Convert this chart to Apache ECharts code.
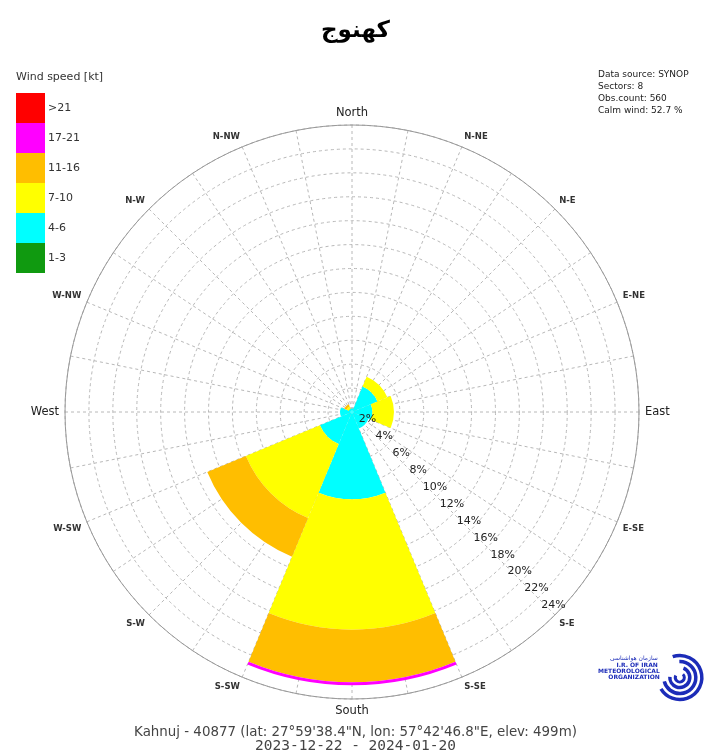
<!DOCTYPE html>
<html><head><meta charset="utf-8">
<script src="https://cdn.jsdelivr.net/npm/echarts@6/dist/echarts.min.js"></script>
<style>html,body{margin:0;padding:0;background:#fff}#c{width:711px;height:755px}</style>
</head><body><div id="c"></div><script>
// ---- data ----
const sectors = ['N', 'NE', 'E', 'SE', 'S', 'SW', 'W', 'NW'];
const speedClasses = ['1-3', '4-6', '7-10', '11-16', '17-21', '>21'];
const classColors = ['#109a10', '#00ffff', '#ffff00', '#ffbe00', '#ff00ff', '#ff0000'];
const freq_1_3   = [0, 0, 0, 0, 0, 0, 0, 0];
const freq_4_6   = [0.3, 2.3, 1.7, 1.5, 7.3, 2.9, 1.0, 0.3];
const freq_7_10  = [0, 0.9, 1.8, 0, 10.9, 6.7, 0, 0.2];
const freq_11_16 = [0, 0, 0, 0, 4.4, 3.5, 0, 0.2];
const freq_17_21 = [0, 0, 0, 0, 0.25, 0, 0, 0];
const freq_gt21  = [0, 0, 0, 0, 0, 0, 0, 0];
const directions16 = ['North', 'N-NE', 'N-E', 'E-NE', 'East', 'E-SE', 'S-E', 'S-SE',
  'South', 'S-SW', 'S-W', 'W-SW', 'West', 'W-NW', 'N-W', 'N-NW'];
const cardinals = ['North', 'East', 'South', 'West'];
const ringMax = 24, ringStep = 2;
const titleText = 'كهنوج';
const infoLines = ['Data source: SYNOP', 'Sectors: 8', 'Obs.count: 560', 'Calm wind: 52.7 %'];
const footerStation = 'Kahnuj - 40877 (lat: 27°59\'38.4"N, lon: 57°42\'46.8"E, elev: 499m)';
const footerPeriod = '2023-12-22 - 2024-01-20';

// ---- build ----
const seriesData = [freq_1_3, freq_4_6, freq_7_10, freq_11_16, freq_17_21, freq_gt21];
const C = [352, 412], R = 287;
const FF = 'DejaVu Sans';
const gridColor = '#b8b8b8';

function dirLabel(v) {
  if (v >= 360) return '';
  const k = v / 22.5;
  if (Math.abs(k - Math.round(k)) > 1e-6) return '';
  const name = directions16[Math.round(k)];
  return cardinals.includes(name) ? '{c|' + name + '}' : '{d|' + name + '}';
}

const chart = echarts.init(document.getElementById('c'));
chart.setOption({
  animation: false,
  backgroundColor: '#fff',
  title: [
    { text: titleText, left: 'center', top: 15, textStyle: { fontFamily: FF, fontSize: 23, fontWeight: 'bold', color: '#000' } },
    { text: 'Wind speed [kt]', left: 11, top: 67, textStyle: { fontFamily: FF, fontSize: 11, fontWeight: 'normal', color: '#333' } },
    { text: infoLines.join('\n'), left: 593, top: 64, textStyle: { fontFamily: FF, fontSize: 9, lineHeight: 12, fontWeight: 'normal', color: '#222' } },
    { text: footerStation, left: 'center', top: 721, textStyle: { fontFamily: FF, fontSize: 13.4, fontWeight: 'normal', color: '#444' } },
    { text: footerPeriod, left: 'center', top: 734, textStyle: { fontFamily: 'DejaVu Sans Mono', fontSize: 14.5, fontWeight: 'normal', color: '#444' } }
  ],
  legend: {
    orient: 'vertical', left: 11, top: 88,
    itemWidth: 29, itemHeight: 30, itemGap: 0, icon: 'rect',
    selectedMode: false,
    data: speedClasses.slice().reverse(),
    textStyle: { fontFamily: FF, fontSize: 11, color: '#333', padding: [0, 0, 0, -2] }
  },
  polar: [
    { center: C, radius: R },
    { center: C, radius: R },
    { center: C, radius: R }
  ],
  angleAxis: [
    {
      polarIndex: 0, type: 'value', min: 0, max: 360, interval: 11.25,
      startAngle: 90, clockwise: true,
      axisLine: { show: true, lineStyle: { color: '#999', width: 1 } },
      axisTick: { show: false },
      axisLabel: {
        margin: 6, showMaxLabel: false, hideOverlap: false,
        formatter: dirLabel,
        rich: {
          c: { fontFamily: FF, fontSize: 11.5, color: '#222' },
          d: { fontFamily: FF, fontSize: 8.5, fontWeight: 'bold', color: '#333' }
        }
      },
      splitLine: { show: true, lineStyle: { color: gridColor, type: [3, 3], width: 1 } }
    },
    {
      polarIndex: 1, type: 'category', data: sectors, boundaryGap: true,
      startAngle: 112.5, clockwise: true, show: false
    },
    {
      polarIndex: 2, type: 'value', startAngle: -45, show: false
    }
  ],
  radiusAxis: [
    {
      polarIndex: 0, type: 'value', min: 0, max: ringMax, interval: ringStep,
      axisLine: { show: false }, axisTick: { show: false }, axisLabel: { show: false },
      splitLine: { show: true, lineStyle: { color: gridColor, type: [3, 3], width: 1 } }
    },
    {
      polarIndex: 1, type: 'value', min: 0, max: ringMax, show: false
    },
    {
      polarIndex: 2, type: 'value', min: 0, max: ringMax, interval: ringStep, z: 10,
      axisLine: { show: false }, axisTick: { show: false }, splitLine: { show: false },
      axisLabel: {
        margin: 0, align: 'center', verticalAlign: 'bottom', padding: [0, 3, 4, 0],
        fontFamily: FF, fontSize: 11, color: '#222',
        formatter: v => v === 0 ? '' : v + '%'
      }
    }
  ],
  series: speedClasses.map((name, i) => ({
    name, type: 'bar', coordinateSystem: 'polar', polarIndex: 1, stack: 'wind',
    data: seriesData[i], barCategoryGap: '0%', barGap: '0%',
    itemStyle: { color: classColors[i] },
    emphasis: { disabled: true }, silent: true, z: 2
  })),
  graphic: [
    {
      type: 'group', left: 598, top: 653, silent: true,
      children: [
        { type: 'arc', shape: { cx: 70, cy: 26, r: 22, startAngle: -1.9, endAngle: 2.6 }, style: { stroke: '#1c2cb8', lineWidth: 3.5, fill: null } },
        { type: 'arc', shape: { cx: 70, cy: 26, r: 16, startAngle: -1.6, endAngle: 2.9 }, style: { stroke: '#1c2cb8', lineWidth: 3.5, fill: null } },
        { type: 'arc', shape: { cx: 70, cy: 26, r: 10, startAngle: -1.2, endAngle: 3.2 }, style: { stroke: '#1c2cb8', lineWidth: 3.5, fill: null } },
        { type: 'arc', shape: { cx: 70, cy: 26, r: 4.5, startAngle: -0.8, endAngle: 3.6 }, style: { stroke: '#1c2cb8', lineWidth: 3, fill: null } },
        { type: 'text', style: { x: 48, y: 4, text: 'سازمان هواشناسی', fontSize: 6, fill: '#1c2cb8', align: 'right', fontFamily: FF } },
        { type: 'text', style: { x: 48, y: 11, text: 'I.R. OF IRAN', fontSize: 6, fontWeight: 'bold', fill: '#1c2cb8', align: 'right', fontFamily: FF } },
        { type: 'text', style: { x: 50, y: 17, text: 'METEOROLOGICAL', fontSize: 6, fontWeight: 'bold', fill: '#1c2cb8', align: 'right', fontFamily: FF } },
        { type: 'text', style: { x: 50, y: 23, text: 'ORGANIZATION', fontSize: 6, fontWeight: 'bold', fill: '#1c2cb8', align: 'right', fontFamily: FF } }
      ]
    }
  ]
});
</script></body></html>
